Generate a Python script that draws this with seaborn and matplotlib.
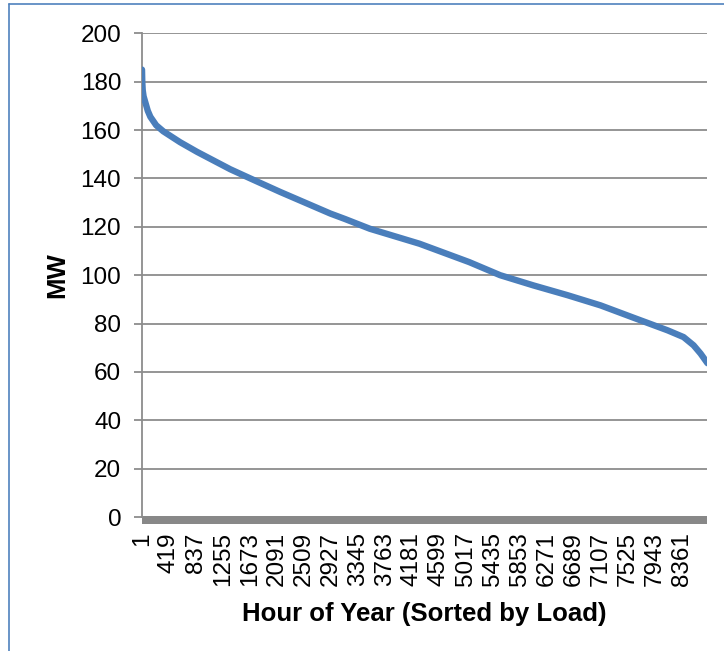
import matplotlib
matplotlib.use("Agg")
import matplotlib.pyplot as plt
import matplotlib.transforms as mtransforms
from matplotlib.patches import Rectangle
from matplotlib.lines import Line2D
import seaborn as sns
import pandas as pd

# Load duration curve
hours = [1, 5, 12, 25, 52, 90, 130, 220, 330, 590, 853, 1368, 1679, 2143, 2917, 3148, 3530,
         4300, 5070, 5548, 6060, 6595, 7105, 7616, 8142, 8390, 8545, 8653, 8760]
mw = [185, 180, 176.5, 174, 171.5, 168, 165.5, 162, 159.5, 155, 151, 143.8, 140, 134.4,
      125.5, 123.2, 119.2, 113, 105.4, 100, 95.8, 91.7, 87.5, 82.4, 77.2, 74.4, 71.0, 67.6, 63.6]

x_tick_labels = [str(1 + 418 * i) for i in range(21)]
y_ticks = list(range(0, 201, 20))

x_label = "Hour of Year (Sorted by Load)"
y_label = "MW"

sns.set_theme(style="white")
plt.rcParams["font.family"] = ["Liberation Sans", "DejaVu Sans"]

df = pd.DataFrame({"hour": hours, "mw": mw})

fig = plt.figure(figsize=(7.24, 6.51), dpi=100)
ax = fig.add_axes([0.1961, 0.2058, 0.9772 - 0.1961, 0.9488 - 0.2058])

grid_c = "#8c8c8c"
for v in y_ticks[1:]:
    ax.axhline(v, color=grid_c, lw=1.3, zorder=1)

sns.lineplot(data=df, x="hour", y="mw", ax=ax, color="#4a7ebb", lw=4.6,
             solid_capstyle="round", solid_joinstyle="round", zorder=3)

ax.set_xlim(0.5, 8760.5)
ax.set_ylim(0, 200)
ax.set_yticks(y_ticks)
ax.set_yticklabels([str(v) for v in y_ticks], fontsize=17.5, color="black")
ax.set_xticks([int(t) for t in x_tick_labels])
ax.set_xticklabels(x_tick_labels, rotation=90, fontsize=17.5, color="black")

ax.tick_params(axis="y", direction="out", length=6, width=1.3, color=grid_c, pad=9, left=True)
ax.tick_params(axis="x", length=0, pad=11)

for s in ["top", "right", "bottom"]:
    ax.spines[s].set_visible(False)
ax.spines["left"].set_color(grid_c)
ax.spines["left"].set_linewidth(1.3)

# thick grey category-axis band (dense tick marks in original)
trans = mtransforms.blended_transform_factory(ax.transAxes, ax.transData)
band_h = 7 / (0.9488 - 0.2058) / 651 * 200
ax.add_patch(Rectangle((0, -band_h), 1, band_h + 0.6, transform=trans,
                       facecolor="#888888", edgecolor="none", clip_on=False, zorder=2))

ax.set_xlabel(x_label, fontsize=18.5, fontweight="bold", labelpad=11, color="black")
ax.set_ylabel(y_label, fontsize=18.5, fontweight="bold", labelpad=8, color="black")

# chart frame (blue lines at top and left)
fig.add_artist(Line2D([9 / 724, 9 / 724], [0, 1 - 3.5 / 651], color="#4f81bd", lw=1.2,
                      transform=fig.transFigure))
fig.add_artist(Line2D([9 / 724, 1], [1 - 3.5 / 651, 1 - 3.5 / 651], color="#4f81bd", lw=1.2,
                      transform=fig.transFigure))

fig.savefig("out.png", dpi=100)
